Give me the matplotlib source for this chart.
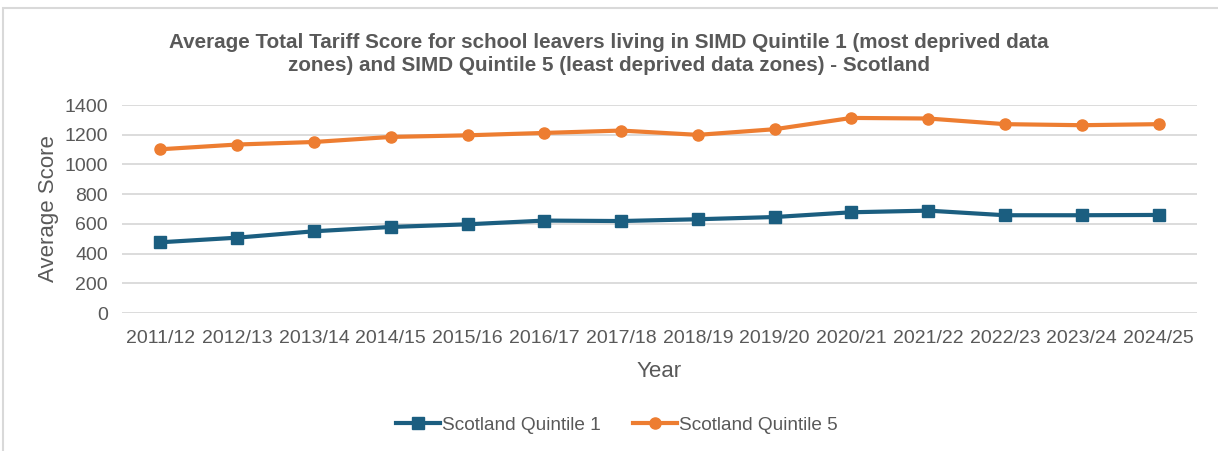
import matplotlib.pyplot as plt
from matplotlib.patches import Rectangle

# data
years = ['2011/12', '2012/13', '2013/14', '2014/15', '2015/16', '2016/17', '2017/18',
         '2018/19', '2019/20', '2020/21', '2021/22', '2022/23', '2023/24', '2024/25']
quintile1 = [476, 507, 550, 579, 597, 622, 619, 631, 646, 678, 689, 658, 658, 660]
quintile5 = [1102, 1134, 1151, 1185, 1196, 1212, 1228, 1199, 1237, 1313, 1309, 1271, 1264, 1271]
yticks = [0, 200, 400, 600, 800, 1000, 1200, 1400]

plt.rcParams['font.family'] = ['Liberation Sans', 'DejaVu Sans']
text_col = '#595959'

fig = plt.figure(figsize=(12.18, 4.51), dpi=100)
fig.patches.append(Rectangle((3 / 1218, -0.1), 1.2, (451 - 8) / 451 + 0.1,
                             transform=fig.transFigure, fill=False,
                             edgecolor='#d9d9d9', linewidth=1.5))
ax = fig.add_axes([122 / 1218, (451 - 313) / 451, (1197 - 122) / 1218, 208 / 451])

x = range(len(years))
ax.plot(x, quintile1, color='#1b5e80', marker='s', markersize=8, linewidth=3,
        label='Scotland Quintile 1')
ax.plot(x, quintile5, color='#ed7d31', marker='o', markersize=8, linewidth=3,
        label='Scotland Quintile 5')

ax.set_xlim(-0.5, len(years) - 0.5)
ax.set_ylim(0, 1400)
ax.set_xticks(list(x))
ax.set_xticklabels(years)
ax.set_yticks(yticks)
ax.grid(axis='y', color='#d9d9d9', linewidth=1.3)
ax.set_axisbelow(True)
for s in ax.spines.values():
    s.set_visible(False)
ax.tick_params(length=0, labelsize=14, colors=text_col)
ax.tick_params(axis='x', pad=12)
ax.tick_params(axis='y', pad=10)
ax.set_xlabel('Year', fontsize=16, color=text_col, labelpad=10)
ax.set_ylabel('Average Score', fontsize=16, color=text_col, labelpad=4)

fig.text(0.5, 1 - 54 / 451, 'Average Total Tariff Score for school leavers living in SIMD Quintile 1 (most deprived data\n'
         'zones) and SIMD Quintile 5 (least deprived data zones) - Scotland',
         ha='center', va='center', fontsize=14.9, fontweight='bold', color=text_col,
         linespacing=1.3)

fig.legend(loc='center', bbox_to_anchor=(617 / 1218, 1 - 425 / 451), ncol=2, frameon=False,
           fontsize=13.7, labelcolor=text_col, handlelength=2.3, handletextpad=0.1,
           columnspacing=1.7)

fig.savefig('out.png')
